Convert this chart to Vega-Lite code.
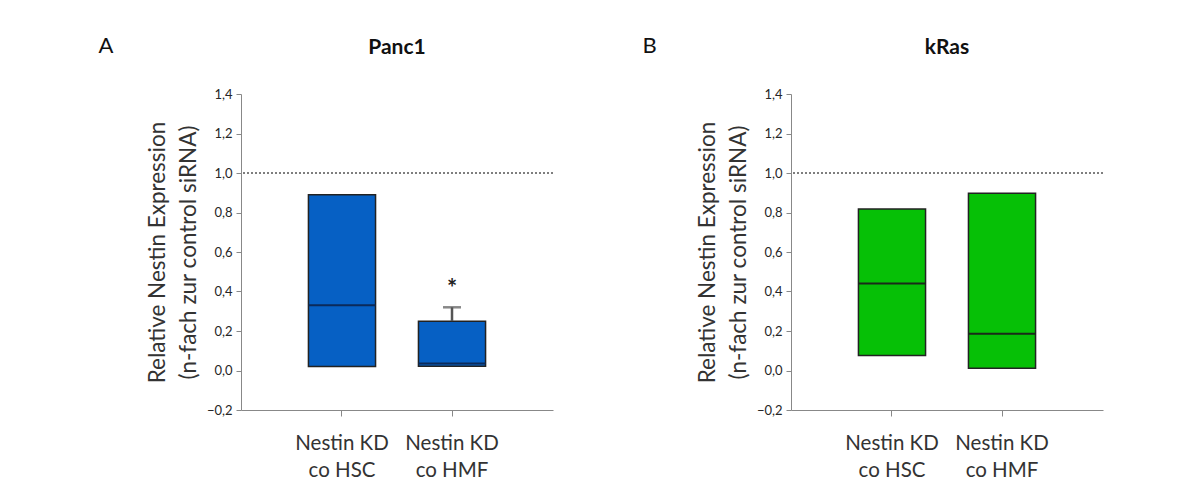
{
  "$schema": "https://vega.github.io/schema/vega-lite/v6.json",
  "padding": {"left": 98, "top": 35, "right": 5, "bottom": 5},
  "background": "white",
  "config": {
    "font": "Lato",
    "view": {"stroke": null},
    "title": {"fontSize": 21, "fontWeight": "bold", "color": "#111", "offset": 30},
    "axisX": {"domainColor": "#888", "tickColor": "#888", "tickSize": 6, "labelAngle": 0, "labelFontSize": 20.5, "labelColor": "#333", "labelPadding": 17, "labelLineHeight": 27, "title": null, "labelExpr": "['Nestin KD', replace(datum.label, 'Nestin KD ', '')]"},
    "axisY": {"domainColor": "#888", "tickColor": "#888", "tickSize": 5, "grid": false, "labelFontSize": 13, "labelColor": "#262626", "labelPadding": 4, "titleFontSize": 22.5, "titleFontWeight": "normal", "titleColor": "#333", "titleLineHeight": 31, "titlePadding": 6, "values": [-0.2, 0, 0.2, 0.4, 0.6, 0.8, 1.0, 1.2, 1.4], "labelExpr": "replace(format(datum.value, '.1f'), '.', ',')"}
  },
  "datasets": {
    "boxes": [
      {"panel": "Panc1", "group": "Nestin KD co HSC", "low": 0.02, "median": 0.33, "high": 0.89, "err": null, "sig": ""},
      {"panel": "Panc1", "group": "Nestin KD co HMF", "low": 0.022, "median": 0.035, "high": 0.25, "err": 0.32, "sig": "*"},
      {"panel": "kRas", "group": "Nestin KD co HSC", "low": 0.076, "median": 0.44, "high": 0.818, "err": null, "sig": ""},
      {"panel": "kRas", "group": "Nestin KD co HMF", "low": 0.012, "median": 0.186, "high": 0.897, "err": null, "sig": ""}
    ]
  },
  "spacing": 88,
  "hconcat": [
    {
      "title": {"text": "A", "anchor": "start", "frame": "bounds", "fontWeight": "normal", "fontSize": 22, "dx": -48, "dy": 51},
      "hconcat": [
        {
          "title": {"text": "Panc1"},
          "width": 312,
          "height": 316,
          "data": {"name": "boxes"},
          "transform": [{"filter": "datum.panel === 'Panc1'"}],
          "layer": [
            {
              "mark": {"type": "rule", "strokeDash": [2, 2], "color": "#555", "strokeWidth": 1},
              "encoding": {"y": {"datum": 1, "type": "quantitative"}}
            },
            {
              "mark": {"type": "bar", "fill": "#0660C4", "stroke": "#222", "strokeWidth": 1.5},
              "encoding": {
                "x": {"field": "group", "type": "nominal", "sort": null, "scale": {"paddingInner": 0.39, "paddingOuter": 0.613}},
                "y": {"field": "low", "type": "quantitative", "scale": {"domain": [-0.2, 1.4], "nice": false}, "axis": {"title": ["Relative Nestin Expression", "(n-fach zur control siRNA)"]}},
                "y2": {"field": "high"}
              }
            },
            {
              "mark": {"type": "bar", "fill": null, "stroke": "#0B2A5A", "strokeWidth": 2},
              "encoding": {
                "x": {"field": "group", "type": "nominal", "sort": null},
                "y": {"field": "median", "type": "quantitative"},
                "y2": {"field": "median"}
              }
            },
            {
              "transform": [{"filter": "isValid(datum.err)"}],
              "mark": {"type": "rule", "color": "#555", "strokeWidth": 2.5},
              "encoding": {
                "x": {"field": "group", "type": "nominal", "sort": null},
                "y": {"field": "high", "type": "quantitative"},
                "y2": {"field": "err"}
              }
            },
            {
              "transform": [{"filter": "isValid(datum.err)"}],
              "mark": {"type": "tick", "color": "#555", "thickness": 2.5, "size": 18},
              "encoding": {
                "x": {"field": "group", "type": "nominal", "sort": null},
                "y": {"field": "err", "type": "quantitative"}
              }
            },
            {
              "transform": [{"filter": "isValid(datum.err)"}],
              "mark": {"type": "text", "fontSize": 24, "fontWeight": "bold", "color": "#222", "baseline": "bottom", "dy": -5},
              "encoding": {
                "x": {"field": "group", "type": "nominal", "sort": null},
                "y": {"field": "err", "type": "quantitative"},
                "text": {"field": "sig"}
              }
            }
          ]
        }
      ]
    },
    {
      "title": {"text": "B", "anchor": "start", "frame": "bounds", "fontWeight": "normal", "fontSize": 22, "dx": -54, "dy": 51},
      "hconcat": [
        {
          "title": {"text": "kRas"},
          "width": 312,
          "height": 316,
          "data": {"name": "boxes"},
          "transform": [{"filter": "datum.panel === 'kRas'"}],
          "layer": [
            {
              "mark": {"type": "rule", "strokeDash": [2, 2], "color": "#555", "strokeWidth": 1},
              "encoding": {"y": {"datum": 1, "type": "quantitative"}}
            },
            {
              "mark": {"type": "bar", "fill": "#06C006", "stroke": "#222", "strokeWidth": 1.5},
              "encoding": {
                "x": {"field": "group", "type": "nominal", "sort": null, "scale": {"paddingInner": 0.39, "paddingOuter": 0.613}},
                "y": {"field": "low", "type": "quantitative", "scale": {"domain": [-0.2, 1.4], "nice": false}, "axis": {"title": ["Relative Nestin Expression", "(n-fach zur control siRNA)"]}},
                "y2": {"field": "high"}
              }
            },
            {
              "mark": {"type": "bar", "fill": null, "stroke": "#1A2A1A", "strokeWidth": 2},
              "encoding": {
                "x": {"field": "group", "type": "nominal", "sort": null},
                "y": {"field": "median", "type": "quantitative"},
                "y2": {"field": "median"}
              }
            }
          ]
        }
      ]
    }
  ]
}
